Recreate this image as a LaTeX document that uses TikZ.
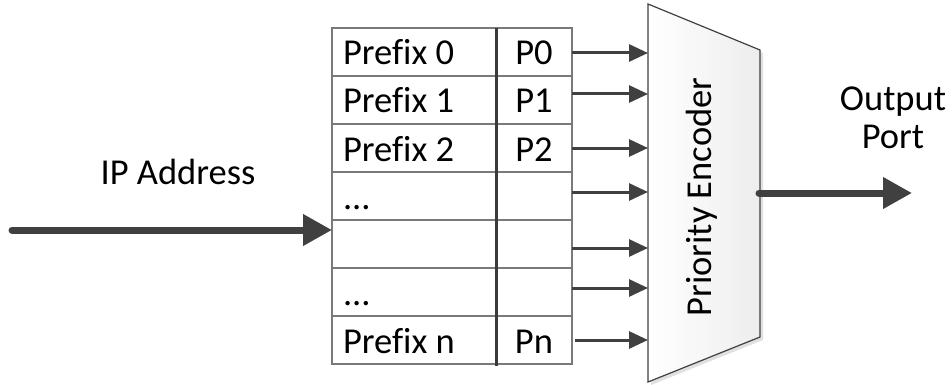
\documentclass[tikz,border=0pt]{standalone}
\usepackage{fontspec}
\setmainfont{Carlito}[Ligatures=CommonOff]
\usetikzlibrary{arrows.meta,positioning,shadows}
\definecolor{linegray}{HTML}{7A7A7A}
\definecolor{arrowgray}{HTML}{404040}
\definecolor{divgray}{HTML}{3A3A3A}
\begin{document}
\begin{tikzpicture}[x=1pt,y=-1pt,
  every node/.style={font=\fontsize{36.5}{40}\selectfont, inner sep=0pt, outer sep=0pt},
  cellA/.style={draw=linegray, line width=1.8pt, minimum width=164pt, minimum height=48pt, anchor=north west},
  cellB/.style={draw=linegray, line width=1.8pt, minimum width=76pt, minimum height=48pt, anchor=north west},
  thin arrow/.style={draw=arrowgray, line width=3pt, -{Triangle[length=19pt,width=17pt]}},
  thick arrow/.style={draw=arrowgray, line width=7pt, line cap=round, -{Triangle[length=29pt,width=30pt]}},
  celltext/.style={anchor=base west, text=black},
  coltext/.style={anchor=base, text=black}
]
\useasboundingbox (0,0) rectangle (952,385);
% table cells
\foreach \i in {0,...,6} {
  \node[cellA] (a\i) at (332,{28+48*\i}) {};
  \node[cellB] (b\i) at (496,{28+48*\i}) {};
}
\draw[draw=divgray, line width=3pt] (a0.north east) -- ([yshift=-2pt]a6.south east);
% texts
\node[celltext] (t0) at (343,65) {Prefix 0};
\node[celltext] (t1) at (343,113) {Prefix 1};
\node[celltext] (t2) at (343,161) {Prefix 2};
\node[celltext] (t3) at (343,209) {...};
\node[celltext] (t5) at (343,305) {...};
\node[celltext] (t6) at (343,353) {Prefix n};
\node[coltext] (p0) at (534,65) {P0};
\node[coltext] (p1) at (534,113) {P1};
\node[coltext] (p2) at (534,161) {P2};
\node[coltext] (pn) at (534,353) {Pn};
% encoder
\coordinate (e1) at (648,4);
\coordinate (e2) at (760,50);
\coordinate (e3) at (760,337);
\coordinate (e4) at (648,382);
\fill[black!12] ([shift={(3,3)}]e1) -- ([shift={(3,3)}]e2) -- ([shift={(3,3)}]e3) -- ([shift={(3,3)}]e4) -- cycle;
\shade[left color=white, right color=black!7] (e1) -- (e2) -- (e3) -- (e4) -- cycle;
\draw[draw=arrowgray, line width=1.2pt] (e1) -- (e2) -- (e3) -- (e4) -- cycle;
\node[rotate=90, text=black] (enc) at (702,197) {Priority Encoder};
% input arrows
\foreach \y [count=\k] in {53,94,148,192,248,288} {
  \coordinate (s\k) at (572,\y);
  \coordinate (d\k) at (648,\y);
  \draw[thin arrow] (s\k) -- (d\k);
}
\coordinate (s7) at (575,340);
\coordinate (d7) at (648,340);
\draw[thin arrow] (s7) -- (d7);
% IP address
\node (ip) at (178,172) {IP Address};
\coordinate (ipstart) at (12,230);
\coordinate (ipend) at (332,230);
\draw[thick arrow] (ipstart) -- (ipend);
% output
\node[align=center] (out) at (893,118) {Output\\[-2pt]Port};
\coordinate (ostart) at (759,193);
\coordinate (oend) at (912,193);
\draw[thick arrow] (ostart) -- (oend);
\end{tikzpicture}
\end{document}
